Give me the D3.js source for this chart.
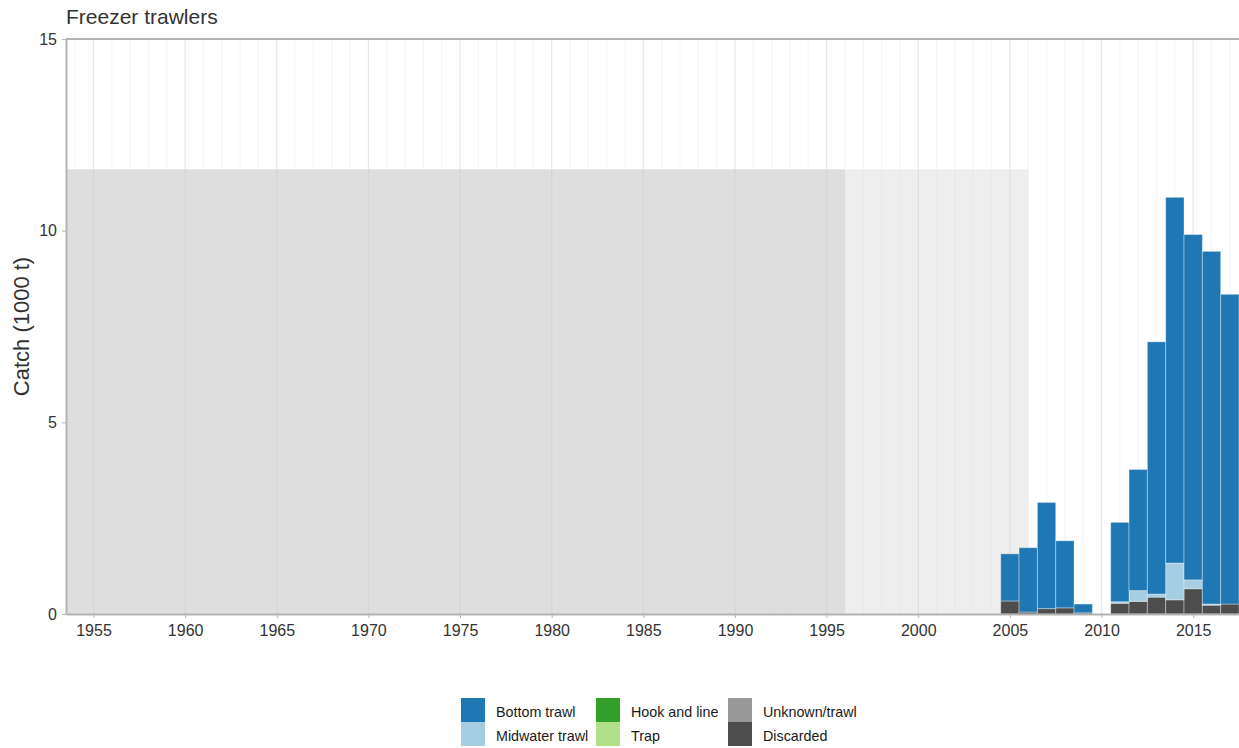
<!DOCTYPE html>
<html>
<head>
<meta charset="utf-8">
<script src="https://cdn.jsdelivr.net/npm/d3@7"></script>
<style>
  html, body { margin: 0; padding: 0; background: #fff; }
  svg { display: block; font-family: "Liberation Sans", Arial, sans-serif; }
</style>
</head>
<body>
<svg id="chart" width="1239" height="748"></svg>
<script>
// Catch by gear (1000 t), freezer trawlers
const years        = [2005, 2006, 2007, 2008, 2009, 2011, 2012, 2013, 2014, 2015, 2016, 2017];
const discarded    = [0.34, 0.05, 0.14, 0.16, 0.03, 0.28, 0.33, 0.44, 0.37, 0.66, 0.23, 0.26];
const midwater     = [0.00, 0.00, 0.00, 0.00, 0.00, 0.04, 0.28, 0.08, 0.96, 0.23, 0.03, 0.00];
const bottomTrawl  = [1.23, 1.68, 2.77, 1.75, 0.23, 2.07, 3.16, 6.58, 9.54, 9.01, 9.20, 8.08];
const hookLine     = [0, 0, 0, 0, 0, 0, 0, 0, 0, 0, 0, 0];
const trap         = [0, 0, 0, 0, 0, 0, 0, 0, 0, 0, 0, 0];
const unknownTrawl = [0, 0, 0, 0, 0, 0, 0, 0, 0, 0, 0, 0];

const gearNames  = ["Discarded", "Unknown/trawl", "Trap", "Hook and line", "Midwater trawl", "Bottom trawl"];
const gearColors = ["#4d4d4d", "#999999", "#b2df8a", "#33a02c", "#a6cee3", "#1f78b4"];
const legendOrder = ["Bottom trawl", "Midwater trawl", "Hook and line", "Trap", "Unknown/trawl", "Discarded"];

// Background periods shaded behind the bars
const periods = [
  { from: 1950, to: 1996, top: 11.6, fill: "#dedede" },
  { from: 1996, to: 2006, top: 11.6, fill: "#eeeeee" }
];

const yTicks = [0, 5, 10, 15];
const xTicks = [1955, 1960, 1965, 1970, 1975, 1980, 1985, 1990, 1995, 2000, 2005, 2010, 2015];
const title = "Freezer trawlers";
const yTitle = "Catch (1000 t)";

const svg = d3.select("#chart");
const W = 1239, H = 748;
const m = { left: 66, top: 39, right: 0, bottom: 134 };

const x = d3.scaleLinear().domain([1953.5, 2017.5]).range([m.left, W - m.right]);
const y = d3.scaleLinear().domain([0, 15]).range([H - m.bottom, m.top]);
const color = d3.scaleOrdinal().domain(gearNames).range(gearColors);

const rows = years.map((yr, i) => ({
  year: yr,
  "Discarded": discarded[i],
  "Unknown/trawl": unknownTrawl[i],
  "Trap": trap[i],
  "Hook and line": hookLine[i],
  "Midwater trawl": midwater[i],
  "Bottom trawl": bottomTrawl[i]
}));
const stacked = d3.stack().keys(gearNames)(rows);

svg.append("defs").append("clipPath").attr("id", "plotClip")
  .append("rect").attr("x", m.left).attr("y", m.top)
  .attr("width", W - m.left - m.right).attr("height", H - m.top - m.bottom);

const plot = svg.append("g").attr("clip-path", "url(#plotClip)");

// shaded periods
plot.selectAll("rect.period").data(periods).join("rect")
  .attr("class", "period")
  .attr("x", d => x(d.from)).attr("width", d => x(d.to) - x(d.from))
  .attr("y", d => y(d.top)).attr("height", d => y(0) - y(d.top))
  .attr("fill", d => d.fill);

// yearly grid lines
const allYears = d3.range(1950, 2019);
plot.selectAll("line.grid").data(allYears).join("line")
  .attr("class", "grid")
  .attr("x1", d => x(d)).attr("x2", d => x(d))
  .attr("y1", y(15)).attr("y2", y(0))
  .attr("stroke", d => d % 5 === 0 ? "#d0d0d0" : "#e0e0e0")
  .attr("stroke-opacity", d => d % 5 === 0 ? 0.5 : 0.3)
  .attr("stroke-width", 1.2);

// stacked bars
plot.selectAll("g.layer").data(stacked).join("g")
  .attr("class", "layer")
  .attr("fill", d => color(d.key))
  .selectAll("rect").data(d => d.filter(s => s[1] - s[0] > 0)).join("rect")
  .attr("x", d => x(d.data.year - 0.5))
  .attr("width", d => x(d.data.year + 0.5) - x(d.data.year - 0.5))
  .attr("y", d => y(d[1]))
  .attr("height", d => y(d[0]) - y(d[1]))
  .attr("stroke", "#ffffff")
  .attr("stroke-opacity", 0.35)
  .attr("stroke-width", 1);

// axes
const axisColor = "#b3b3b3";
const xAxis = svg.append("g").attr("transform", `translate(0,${y(0)})`)
  .call(d3.axisBottom(x).tickValues(xTicks).tickFormat(d3.format("d")).tickSize(4).tickSizeOuter(0));
const yAxis = svg.append("g").attr("transform", `translate(${m.left},0)`)
  .call(d3.axisLeft(y).tickValues(yTicks).tickSize(4).tickSizeOuter(0));
[xAxis, yAxis].forEach(a => {
  a.select(".domain").attr("stroke", axisColor).attr("stroke-width", 2);
  a.selectAll(".tick line").attr("stroke", axisColor).attr("stroke-width", 1);
  a.selectAll(".tick text").attr("fill", "#333").attr("font-size", 16)
    .attr("font-family", "'Liberation Sans', Arial, sans-serif");
});
xAxis.selectAll(".tick text").attr("y", 8).attr("dy", "0.9em");
yAxis.selectAll(".tick text").attr("x", -9);

// top border of the panel
svg.append("line")
  .attr("x1", m.left).attr("x2", W).attr("y1", y(15)).attr("y2", y(15))
  .attr("stroke", axisColor).attr("stroke-width", 2);

// titles
svg.append("text").attr("x", m.left).attr("y", 24)
  .attr("font-size", 21).attr("fill", "#333").text(title);
svg.append("text")
  .attr("transform", `translate(29,${(y(0) + y(15)) / 2}) rotate(-90)`)
  .attr("text-anchor", "middle").attr("font-size", 22).attr("fill", "#333")
  .text(yTitle);

// legend: three columns, two rows
const legend = svg.append("g");
const colX = [461, 596, 728];
const rowY = [698, 722];
legendOrder.forEach((name, i) => {
  const c = Math.floor(i / 2), r = i % 2;
  const g = legend.append("g").attr("transform", `translate(${colX[c]},${rowY[r]})`);
  g.append("rect").attr("width", 24).attr("height", 24).attr("fill", color(name));
  g.append("text").attr("x", 35).attr("y", 18.8).attr("font-size", 14.3)
    .attr("fill", "#1a1a1a").text(name);
});
</script>
</body>
</html>
